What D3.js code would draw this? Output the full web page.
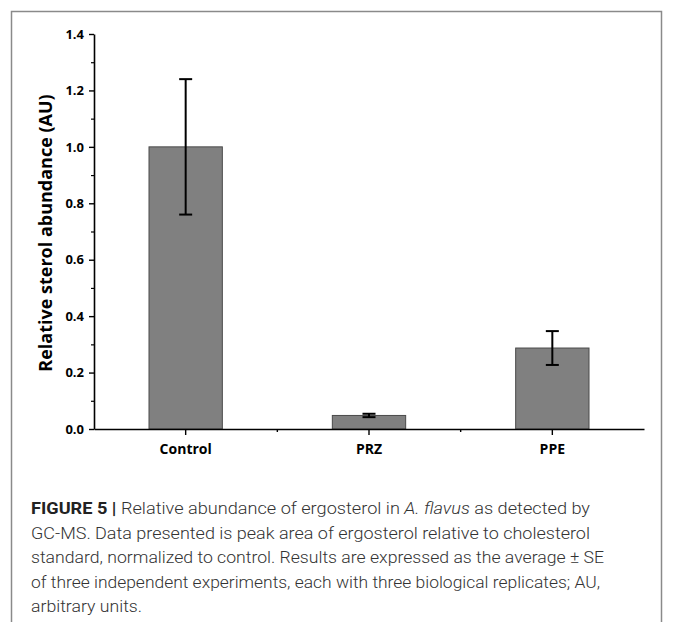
<!DOCTYPE html>
<html lang="en">
<head>
<meta charset="UTF-8">
<title>Figure 5</title>
<script src="https://cdn.jsdelivr.net/npm/d3@7"></script>
<style>
  body { margin: 0; background: #fff; }
  svg { display: block; }
  .tick text { font-family: "Open Sans", "DejaVu Sans", sans-serif; font-weight: bold; }
</style>
</head>
<body>
<svg id="chart" width="673" height="622"></svg>
<script>
// data
const groups = ["Control", "PRZ", "PPE"];
const means = [1.0, 0.048, 0.287];
const errs = [0.24, 0.006, 0.06];
const yTicks = [0.0, 0.2, 0.4, 0.6, 0.8, 1.0, 1.2, 1.4];
const captionLines = [
  [["b", "FIGURE 5 | "], ["n", "Relative abundance of ergosterol in "], ["i", "A. flavus"], ["n", " as detected by"]],
  [["n", "GC-MS. Data presented is peak area of ergosterol relative to cholesterol"]],
  [["n", "standard, normalized to control. Results are expressed as the average \u00b1 SE"]],
  [["n", "of three independent experiments, each with three biological replicates; AU,"]],
  [["n", "arbitrary units."]]
];
// approximate widths of each caption line in the figure
const captionWidths = [559, 559, 573, 569, 111];

const svg = d3.select("#chart");

// frame
svg.append("path")
  .attr("d", "M11.5,640 V11.5 H661.5 V640")
  .attr("fill", "none")
  .attr("stroke", "#8a8a8a")
  .attr("stroke-width", 1.5);

const x = d3.scaleBand().domain(groups).range([94, 644]).paddingInner(0.6).paddingOuter(0.3);
const y = d3.scaleLinear().domain([0, 1.4]).range([429, 34]);

const g = svg.append("g");

// bars
g.selectAll(".bar").data(groups).join("rect")
  .attr("class", "bar")
  .attr("x", d => x(d))
  .attr("width", x.bandwidth())
  .attr("y", (d, i) => y(means[i]))
  .attr("height", (d, i) => y(0) - y(means[i]))
  .attr("fill", "#808080")
  .attr("stroke", "#4a4a4a")
  .attr("stroke-width", 1);

// error bars
const cap = 6.5;
const eb = g.selectAll(".err").data(groups).join("g").attr("class", "err")
  .attr("stroke", "#000").attr("stroke-width", 2);
eb.append("line")
  .attr("x1", d => x(d) + x.bandwidth() / 2).attr("x2", d => x(d) + x.bandwidth() / 2)
  .attr("y1", (d, i) => y(means[i] + errs[i])).attr("y2", (d, i) => y(means[i] - errs[i]));
eb.append("line")
  .attr("x1", d => x(d) + x.bandwidth() / 2 - cap).attr("x2", d => x(d) + x.bandwidth() / 2 + cap)
  .attr("y1", (d, i) => y(means[i] + errs[i])).attr("y2", (d, i) => y(means[i] + errs[i]));
eb.append("line")
  .attr("x1", d => x(d) + x.bandwidth() / 2 - cap).attr("x2", d => x(d) + x.bandwidth() / 2 + cap)
  .attr("y1", (d, i) => y(means[i] - errs[i])).attr("y2", (d, i) => y(means[i] - errs[i]));

// y axis minor ticks
const yMinor = svg.append("g").attr("transform", "translate(94,0)")
  .call(d3.axisLeft(y).tickValues(d3.range(0.1, 1.4, 0.2)).tickSize(3).tickFormat(""));
yMinor.select(".domain").remove();
yMinor.selectAll("line").attr("stroke-width", 1.2);

// y axis
const yAxis = svg.append("g").attr("transform", "translate(94,0)")
  .call(d3.axisLeft(y).tickValues(yTicks).tickSize(5).tickSizeOuter(0).tickFormat(d3.format(".1f")));
yAxis.select(".domain").attr("stroke-width", 1.6);
yAxis.selectAll(".tick line").attr("stroke-width", 1.4);
yAxis.selectAll(".tick text").attr("font-size", 13).attr("x", -10).attr("fill", "#000");

// x axis minor ticks at band boundaries
const xMinor = svg.append("g").attr("transform", "translate(0,429)");
xMinor.selectAll("line").data(groups.slice(1)).join("line")
  .attr("x1", d => x(d) - x.step() * x.paddingInner() / 2)
  .attr("x2", d => x(d) - x.step() * x.paddingInner() / 2)
  .attr("y1", 0).attr("y2", 3)
  .attr("stroke", "#000").attr("stroke-width", 1.4);

// x axis
const xAxis = svg.append("g").attr("transform", "translate(0,429)")
  .call(d3.axisBottom(x).tickSize(6).tickSizeOuter(0));
xAxis.select(".domain").attr("stroke-width", 1.6);
xAxis.selectAll(".tick line").attr("stroke-width", 1.4);
xAxis.selectAll(".tick text").attr("font-size", 14).attr("y", 15).attr("fill", "#000");

// y label
svg.append("text")
  .attr("transform", "translate(52,233) rotate(-90)")
  .attr("text-anchor", "middle")
  .attr("font-family", "Open Sans, DejaVu Sans, sans-serif")
  .attr("font-weight", "bold")
  .attr("font-size", 18)
  .text("Relative sterol abundance (AU)");

// caption
const capG = svg.append("g")
  .attr("font-family", "Roboto, Liberation Sans, sans-serif")
  .attr("font-weight", 300)
  .attr("font-size", 17)
  .attr("fill", "#333");
captionLines.forEach((line, li) => {
  const t = capG.append("text").attr("x", 31).attr("y", 514 + li * 24.5)
    .attr("textLength", captionWidths[li]).attr("lengthAdjust", "spacingAndGlyphs");
  line.forEach(([k, s]) => {
    const sp = t.append("tspan").text(s);
    if (k === "b") sp.attr("font-weight", "bold").attr("fill", "#222");
    if (k === "i") sp.attr("font-style", "italic");
  });
});
</script>
</body>
</html>
